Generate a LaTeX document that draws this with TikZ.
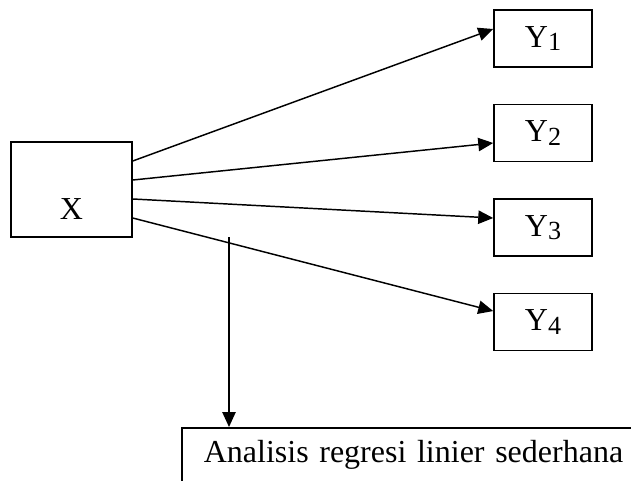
\documentclass[tikz,border=0pt]{standalone}
\usepackage{fontspec}
\setmainfont{Liberation Serif}
\usetikzlibrary{arrows.meta}
\tikzset{
	box/.style={draw,line width=0.6pt,inner sep=0pt,font=\fontsize{12}{14}\selectfont},
	ybox/.style={box,minimum width=36.75pt,minimum height=21.4pt},
	arrow/.style={line width=0.55pt,-{Triangle[length=5.6pt,width=5pt]}}
}
\newcommand{\sub}[1]{\raisebox{-0.25ex}{\fontsize{9.8}{10}\selectfont #1}}

\begin{document}
\begin{tikzpicture}[x=0.375pt,y=-0.375pt]
		\useasboundingbox (0,0) rectangle (631,481);
		\clip (0,0) rectangle (631,481);
		\node[box,minimum width=45.4pt,text height=28.9pt,text depth=6.75pt] (x) at (71.5,189.5) {X};
		\node[ybox] (y1) at (543,38.5) {Y\sub{1}};
		\node[ybox] (y2) at (543,133) {Y\sub{2}};
		\node[ybox] (y3) at (543,227.5) {Y\sub{3}};
		\node[ybox] (y4) at (543,322) {Y\sub{4}};
		\node[box,anchor=north west,inner xsep=8.25pt,text width=170pt,align=left,text height=13.1pt,text depth=20pt] (reg) at (181,427) {Analisis regresi linier sederhana};
		\coordinate (split) at (229,237);
		\draw[arrow] ([yshift=10.7pt]x.east) -- ([yshift=3.56pt]y1.west);
		\draw[arrow] ([yshift=3.56pt]x.east) -- ([yshift=-3.75pt]y2.west);
		\draw[arrow] ([yshift=-3.56pt]x.east) -- ([yshift=3.56pt]y3.west);
		\draw[arrow] ([yshift=-10.7pt]x.east) -- ([yshift=4.1pt]y4.west);
		\draw[arrow] (split) -- (split |- reg.north);
	\end{tikzpicture}
\end{document}
